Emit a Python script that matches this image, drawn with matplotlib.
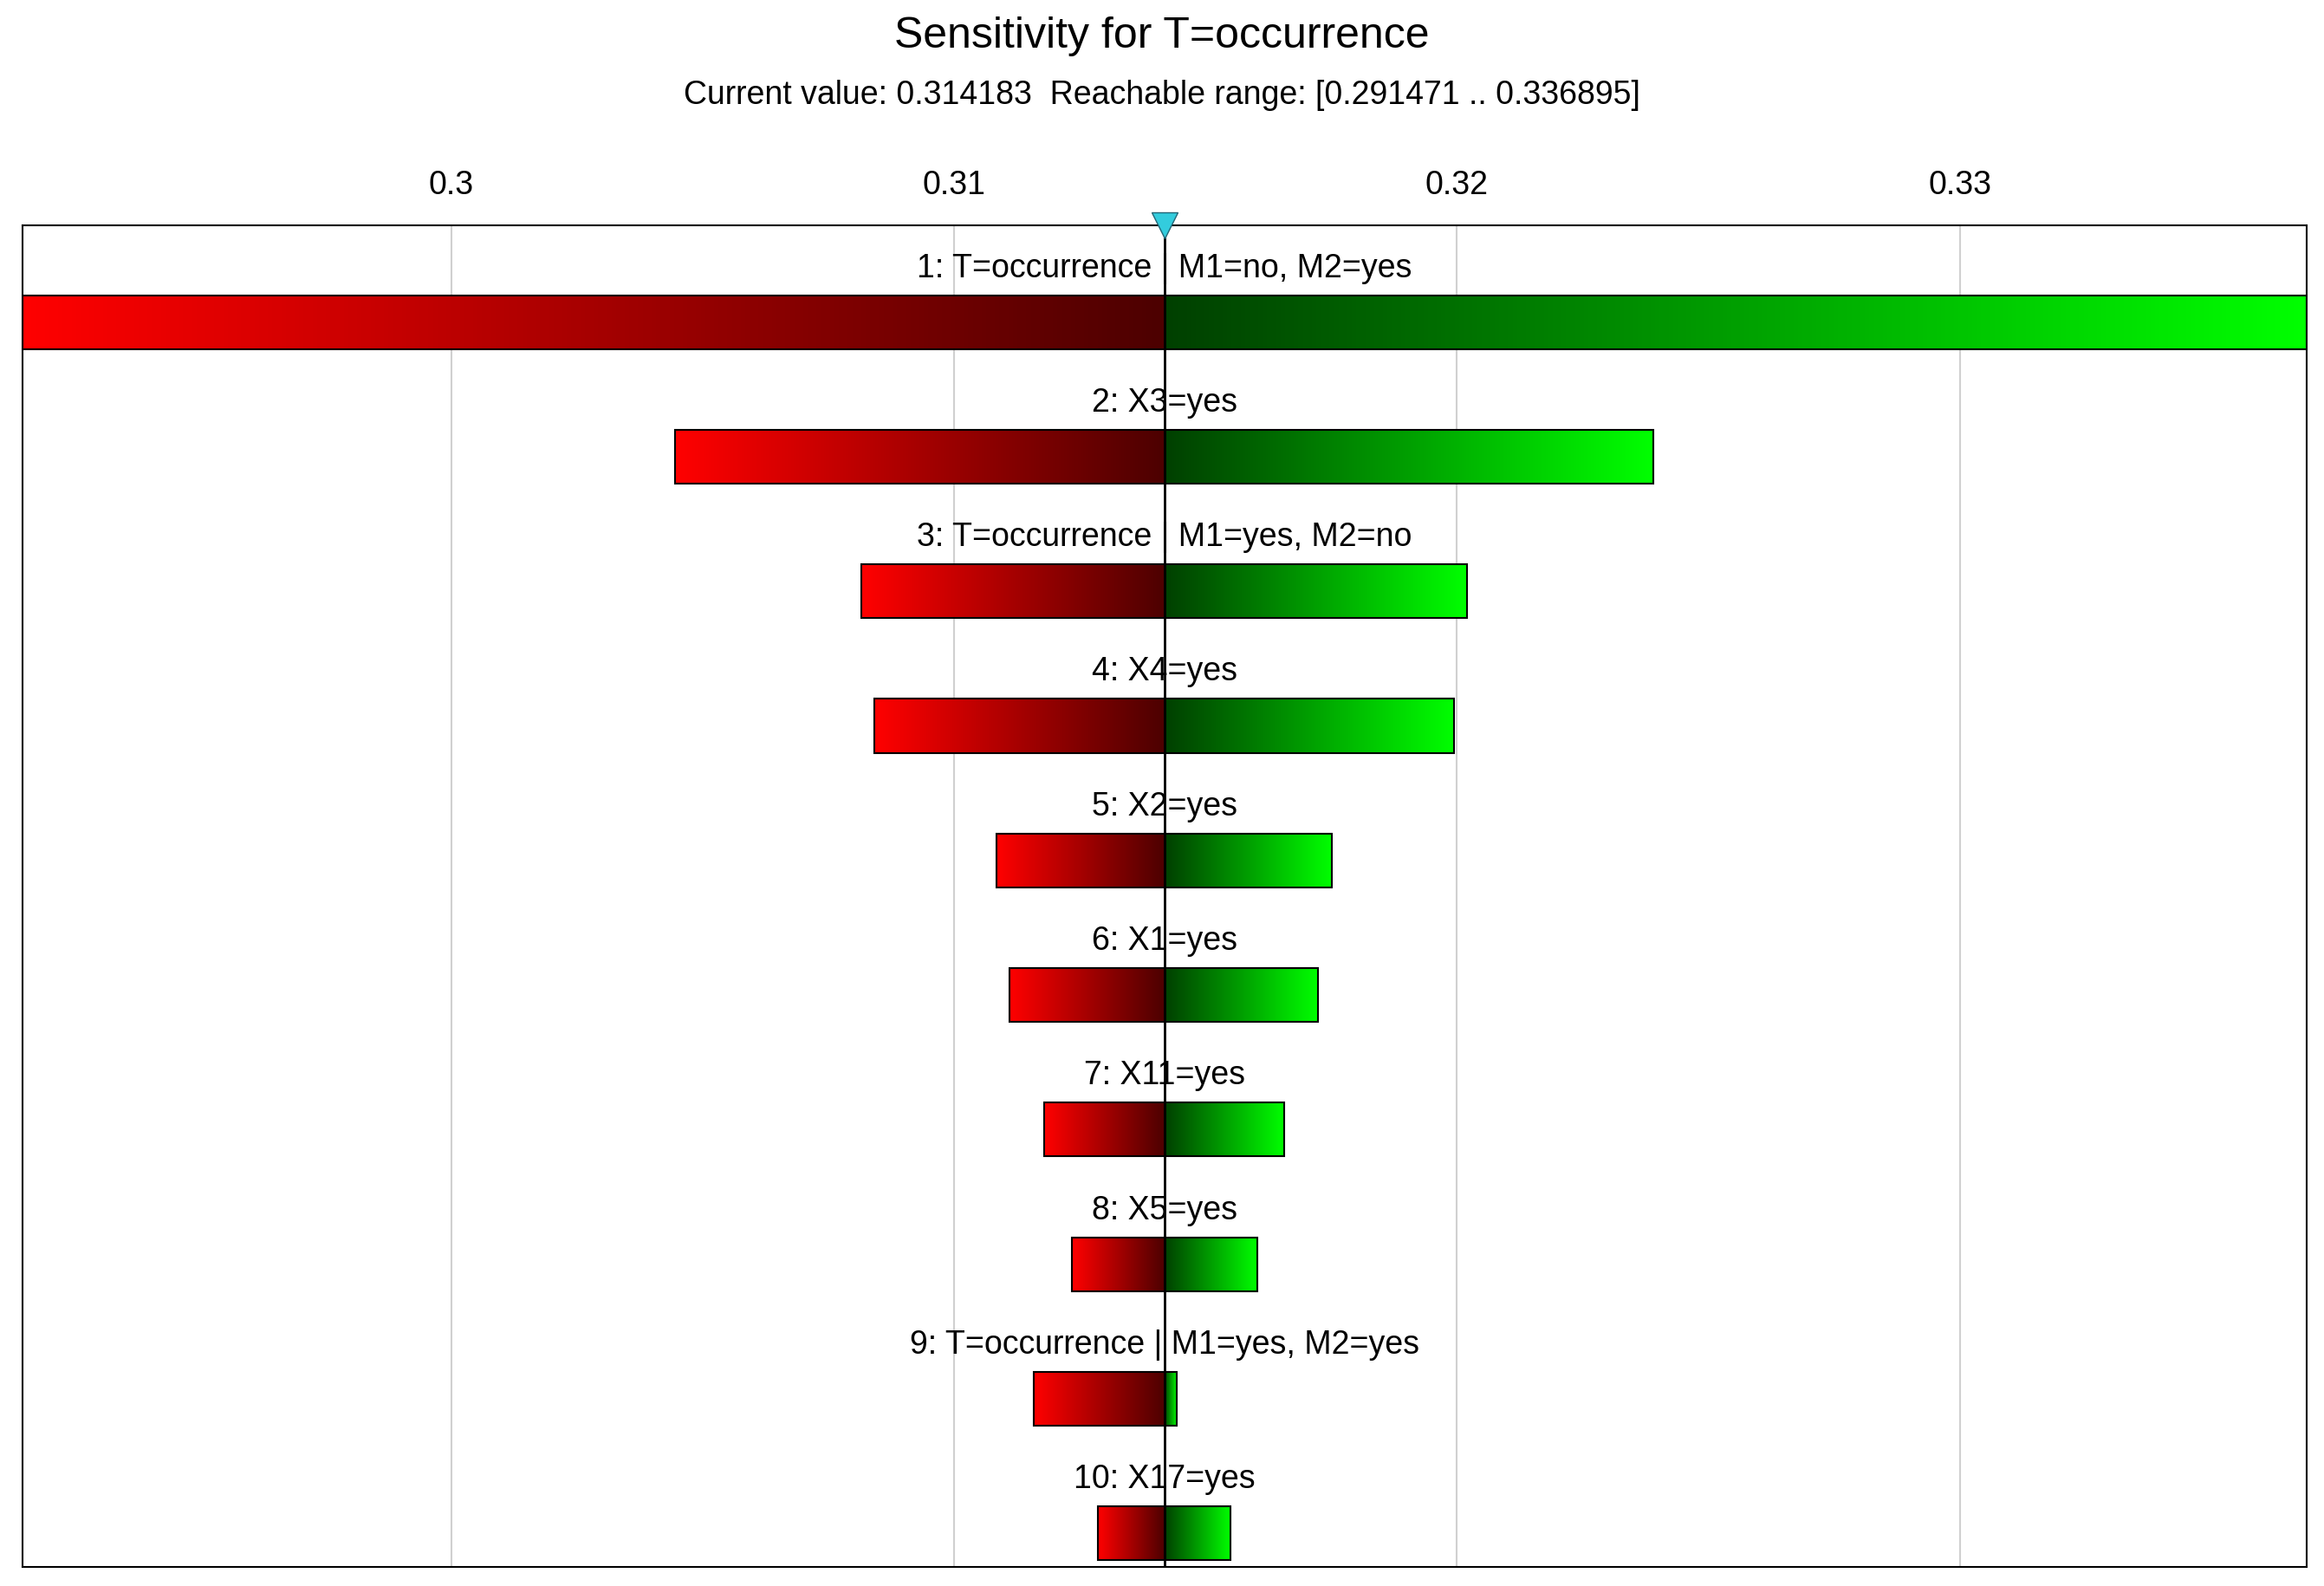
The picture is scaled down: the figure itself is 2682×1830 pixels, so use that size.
import numpy as np
import matplotlib.pyplot as plt
from matplotlib.colors import LinearSegmentedColormap

plt.rcParams['font.family'] = ['Liberation Sans Narrow', 'Liberation Sans', 'DejaVu Sans']

current = 0.314183
reach_lo, reach_hi = 0.291471, 0.336895

labels = ['1: T=occurrence | M1=no, M2=yes', '2: X3=yes',
          '3: T=occurrence | M1=yes, M2=no', '4: X4=yes', '5: X2=yes',
          '6: X1=yes', '7: X11=yes', '8: X5=yes',
          '9: T=occurrence | M1=yes, M2=yes', '10: X17=yes']
low = [0.291471, 0.30446, 0.30815, 0.30842, 0.31085,
       0.31111, 0.31179, 0.31235, 0.31158, 0.31287]
high = [0.336895, 0.32390, 0.32020, 0.31994, 0.31751,
        0.31724, 0.31657, 0.31604, 0.31443, 0.31550]
ticks = [0.30, 0.31, 0.32, 0.33]
tick_labels = ['0.3', '0.31', '0.32', '0.33']

reds = LinearSegmentedColormap.from_list('r', [(1, 0, 0), (0.3, 0, 0)])
greens = LinearSegmentedColormap.from_list('g', [(0, 0.25, 0), (0, 1, 0)])
grad = np.linspace(0, 1, 256).reshape(1, -1)

fig = plt.figure(figsize=(26.82, 18.30), dpi=100)
ax = fig.add_axes([0.0096, 0.012, 0.9828, 0.846])
bh = 0.4

for i, (lab, lo, hi) in enumerate(zip(labels, low, high)):
    ax.imshow(grad, cmap=reds, aspect='auto', zorder=2,
              extent=(lo, current, i + bh / 2, i - bh / 2))
    ax.imshow(grad, cmap=greens, aspect='auto', zorder=2,
              extent=(current, hi, i + bh / 2, i - bh / 2))
    ax.add_patch(plt.Rectangle((lo, i - bh / 2), hi - lo, bh, fill=False,
                               ec='black', lw=1.5, zorder=3))
    ax.text(current, i - 0.4, lab, ha='center', va='center',
            fontsize=27, zorder=4)

ax.axvline(current, color='black', lw=2, zorder=5)
ax.plot([current], [-0.72], marker='v', ms=22, color='#33ccdd',
        mec='#226677', clip_on=False, zorder=6)

ax.set_xlim(reach_lo, reach_hi)
ax.set_ylim(9.25, -0.72)
ax.set_xticks(ticks)
ax.set_xticklabels(tick_labels, fontsize=27)
ax.xaxis.tick_top()
ax.tick_params(axis='x', length=0, pad=20)
ax.set_yticks([])
ax.grid(axis='x', color='#d0d0d0', lw=1.5, zorder=0)
ax.set_axisbelow(True)
for s in ax.spines.values():
    s.set_linewidth(1.5)

fig.text(0.5, 0.977, 'Sensitivity for T=occurrence', ha='center',
         va='center', fontsize=36)
fig.text(0.5, 0.94, 'Current value: 0.314183  Reachable range: [0.291471 .. 0.336895]',
         ha='center', va='center', fontsize=27)

fig.savefig('out.png')
